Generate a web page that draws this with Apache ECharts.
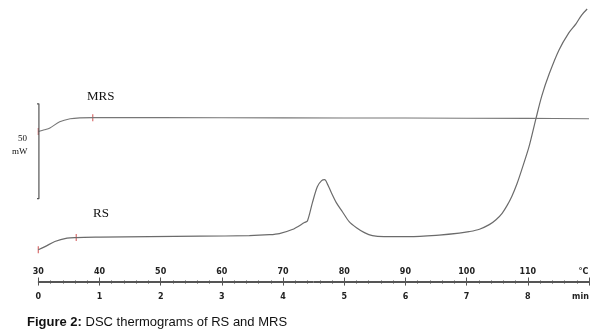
<!DOCTYPE html>
<html>
<head>
<meta charset="utf-8">
<script src="https://cdn.jsdelivr.net/npm/echarts@6/dist/echarts.min.js"></script>
<style>
  html, body { margin: 0; padding: 0; background: #fff; }
  #chart { width: 602px; height: 336px; }
</style>
</head>
<body>
<div id="chart"></div>
<script>
// Temperature (°C) vs heat flow (mW) for the two samples
const rsTemp = [30.0, 31.1, 32.7, 34.7, 36.2, 40.1, 48.2, 56.4, 64.5, 67.8, 69.4, 71.5, 73.5, 74.0,
  74.8, 75.6, 76.3, 76.8, 77.3, 77.9, 78.7, 79.7, 80.8, 82.0, 83.3, 84.6, 86.5, 90.6, 95.5,
  98.8, 100.4, 102.1, 103.7, 104.8, 105.8, 106.6, 107.4, 108.2, 109.0, 110.2, 111.3, 112.3,
  113.5, 115.1, 116.7, 117.9, 118.8, 119.7];
const rsFlow = [16.8, 18.4, 21.1, 22.9, 23.2, 23.4, 23.7, 23.9, 24.2, 24.7, 25.3, 27.4, 31.1, 32.1,
  41.6, 50.0, 53.2, 53.7, 51.1, 46.8, 41.6, 36.8, 31.6, 28.4, 25.8, 24.2, 23.7, 23.7, 24.5,
  25.5, 26.3, 27.6, 30.0, 32.6, 36.0, 40.0, 45.0, 51.3, 58.9, 71.1, 85.5, 98.0,
  109.5, 122.1, 131.1, 136.0, 140.5, 143.7];

const mrsTemp = [30.0, 31.0, 31.9, 33.5, 35.2, 36.8, 38.9, 50, 70, 90, 110, 120];
const mrsFlow = [79.1, 80.0, 81.0, 84.2, 85.8, 86.3, 86.4, 86.4, 86.3, 86.2, 86.0, 85.8];

// Marked segment limits on each curve
const rsMarks = [[30.0, 16.8], [36.2, 23.2]];
const mrsMarks = [[30.0, 79.1], [38.9, 86.4]];

// 50 mW scale bar
const scaleBase = 43.7;
const scaleSpan = 50;

// Axis ticks
const tempMin = 30, tempMax = 120, tempStep = 10;
const timeLabels = ['0', '1', '2', '3', '4', '5', '6', '7', '8', 'min'];

const ink = '#555';
const curve = '#6b6b6b';

const chart = echarts.init(document.getElementById('chart'));

const zip = (a, b) => a.map((v, i) => [v, b[i]]);

const tickFont = { fontFamily: 'DejaVu Sans', fontSize: 8, fontWeight: 'bold', color: '#222' };

chart.setOption({
  animation: false,
  grid: { left: 38.3, right: 13, top: 0.8, bottom: 53.5 },
  xAxis: [
    {
      type: 'value', position: 'bottom', min: tempMin, max: tempMax, interval: tempStep,
      axisLine: { lineStyle: { color: ink, width: 1 } },
      axisTick: { length: 4, lineStyle: { color: ink } },
      minorTick: { show: true, splitNumber: 5, length: 2, lineStyle: { color: ink } },
      splitLine: { show: false },
      axisLabel: Object.assign({
        margin: 10,
        formatter: v => {
          const lab = timeLabels[Math.round((v - tempMin) / tempStep)];
          return lab === 'min' ? '{u|min}' : lab;
        },
        rich: { u: Object.assign({ padding: [0, 17, 0, 0] }, tickFont) }
      }, tickFont)
    },
    {
      type: 'value', position: 'bottom', min: tempMin, max: tempMax, interval: tempStep,
      axisLine: { lineStyle: { color: ink, width: 1 } },
      axisTick: { inside: true, length: 5, lineStyle: { color: ink } },
      minorTick: { show: true, splitNumber: 5, length: 2, lineStyle: { color: ink } },
      splitLine: { show: false },
      axisLabel: Object.assign({
        inside: true, margin: 7,
        formatter: v => v === tempMax ? '{u|°C}' : String(v),
        rich: { u: Object.assign({ padding: [0, 11, 0, 0] }, tickFont) }
      }, tickFont)
    }
  ],
  yAxis: { type: 'value', min: -0.5, max: 148, show: false, splitLine: { show: false } },
  series: [
    {
      name: 'RS', type: 'line', data: zip(rsTemp, rsFlow), smooth: 0.3, symbol: 'none',
      lineStyle: { color: curve, width: 1.2 }
    },
    {
      name: 'MRS', type: 'line', data: zip(mrsTemp, mrsFlow), smooth: 0.3, symbol: 'none',
      lineStyle: { color: '#777', width: 1.1 }
    },
    {
      name: 'marks', type: 'scatter', data: rsMarks.concat(mrsMarks),
      symbol: 'rect', symbolSize: [1.2, 7],
      itemStyle: { color: '#d04a4a' }
    },
    {
      name: 'scale', type: 'line', clip: false, symbol: 'none',
      data: [[29.5, scaleBase + scaleSpan], [30.1, scaleBase + scaleSpan],
             [30.1, scaleBase], [29.5, scaleBase]],
      lineStyle: { color: ink, width: 1.2 }
    }
  ],
  graphic: [
    { type: 'text', left: 87, top: 90, style: { text: 'MRS', font: '13px "Liberation Serif"', fill: '#111' } },
    { type: 'text', left: 93, top: 207, style: { text: 'RS', font: '13px "Liberation Serif"', fill: '#111' } },
    { type: 'text', left: 18, top: 134, style: { text: '50', font: '9px "Liberation Serif"', fill: '#111' } },
    { type: 'text', left: 12, top: 147, style: { text: 'mW', font: '9px "Liberation Serif"', fill: '#111' } },
    {
      type: 'text', left: 27, top: 316,
      style: {
        text: '{b|Figure 2:} DSC thermograms of RS and MRS',
        font: '13px "Liberation Sans"', fill: '#111',
        rich: { b: { fontFamily: 'Liberation Sans', fontSize: 13, fontWeight: 'bold', fill: '#111' } }
      }
    }
  ]
});
</script>
</body>
</html>
